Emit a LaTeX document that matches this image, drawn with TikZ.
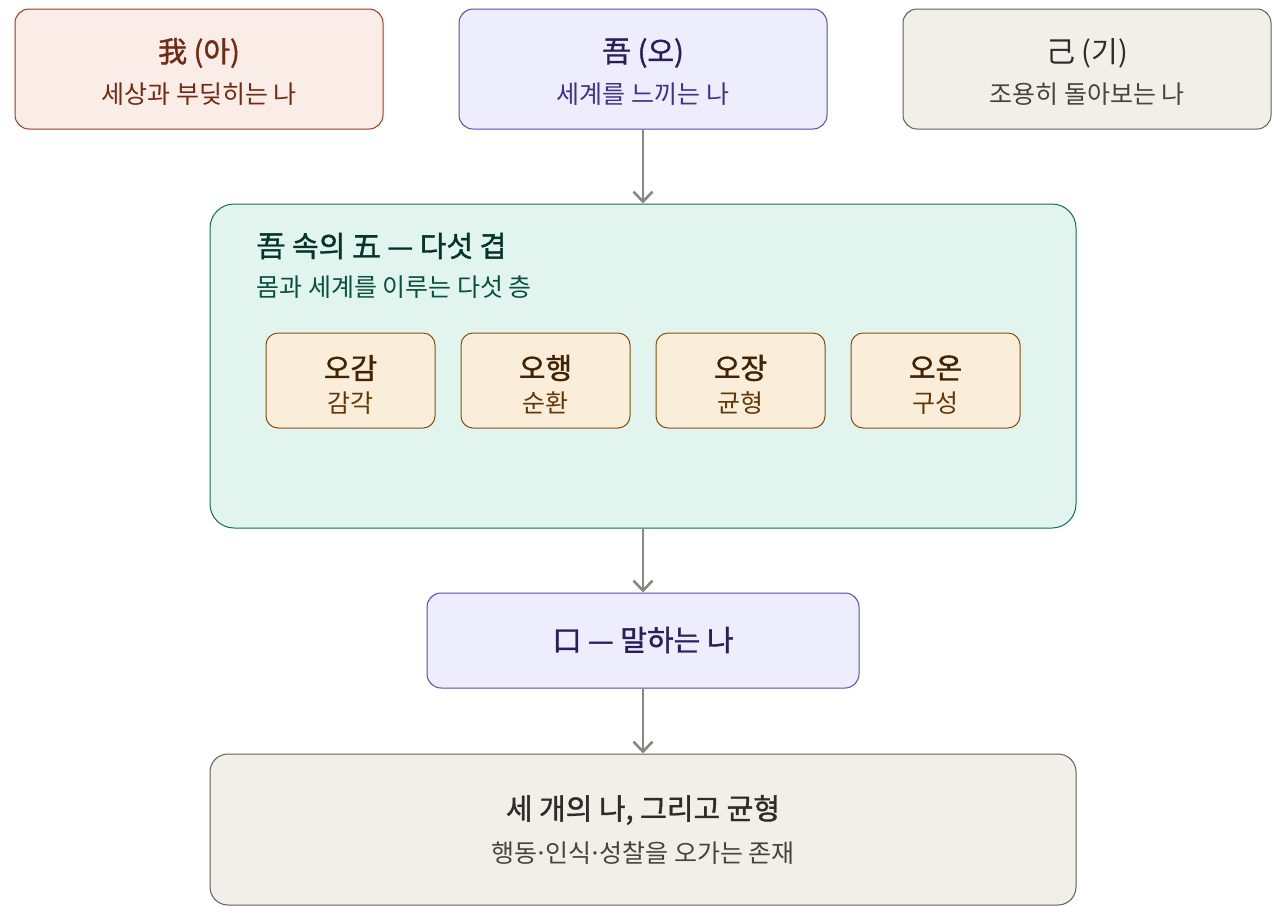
\documentclass[tikz,border=0pt]{standalone}
\usepackage{fontspec}
\setmainfont{Noto Sans CJK KR}
\newfontfamily\medfont[FakeBold=1.3]{Noto Sans CJK KR}
\usetikzlibrary{arrows.meta}

\definecolor{ahfill}{HTML}{FAECE7}
\definecolor{ahline}{HTML}{993C1D}
\definecolor{ahtext}{HTML}{712B13}
\definecolor{ohfill}{HTML}{EEEDFE}
\definecolor{ohline}{HTML}{534AB7}
\definecolor{ohtext}{HTML}{26215C}
\definecolor{ohsub}{HTML}{3C3489}
\definecolor{gifill}{HTML}{F1EFE8}
\definecolor{giline}{HTML}{5F5E5A}
\definecolor{gitext}{HTML}{2C2C2A}
\definecolor{gisub}{HTML}{444441}
\definecolor{fivefill}{HTML}{E1F5EE}
\definecolor{fiveline}{HTML}{0F6E56}
\definecolor{fivetext}{HTML}{04342C}
\definecolor{fivesub}{HTML}{085041}
\definecolor{sensefill}{HTML}{FAEEDA}
\definecolor{senseline}{HTML}{854F0B}
\definecolor{sensetext}{HTML}{412402}
\definecolor{sensesub}{HTML}{633806}
\definecolor{arrowgray}{HTML}{888780}

\newcommand{\mdot}{\kern-0.12em·\kern-0.12em}

\begin{document}
\begin{tikzpicture}[x=1pt, y=-1pt,
    box/.style={draw, line width=1pt, rounded corners=14pt, inner sep=0pt},
    title/.style={font=\fontsize{29}{33}\medfont},
    sub/.style={font=\fontsize{25}{29}\selectfont},
    arr/.style={draw=arrowgray, line width=2.6pt, -{Straight Barb[length=10pt, width=19pt, line width=2.6pt]}}]
    \useasboundingbox (0,0) rectangle (1280,922);

    % top row
    \node[box, fill=ahfill, draw=ahline, minimum width=368pt, minimum height=120pt] (ah) at (199,69) {};
    \node[title, text=ahtext] (ahtitle) at (199,53) {我 (아)};
    \node[sub, text=ahtext] (ahsub) at (199,94) {세상과 부딪히는 나};

    \node[box, fill=ohfill, draw=ohline, minimum width=368pt, minimum height=120pt] (oh) at (643,69) {};
    \node[title, text=ohtext] (ohtitle) at (643,53) {吾 (오)};
    \node[sub, text=ohsub] (ohsub) at (643,94) {세계를 느끼는 나};

    \node[box, fill=gifill, draw=giline, minimum width=368pt, minimum height=120pt] (gi) at (1087,69) {};
    \node[title, font=\fontsize{29}{33}\selectfont, text=gitext] (gititle) at (1087,53) {己 (기)};
    \node[sub, text=gisub] (gisub) at (1087,94) {조용히 돌아보는 나};

    % five layers
    \node[box, rounded corners=24pt, fill=fivefill, draw=fiveline, minimum width=866pt, minimum height=324pt] (five) at (643,366) {};
    \node[title, text=fivetext, anchor=west] (fivetitle) at (253,246) {吾 속의 五 — 다섯 겹};
    \node[sub, text=fivesub, anchor=west] (fivesub) at (253,287) {몸과 세계를 이루는 다섯 층};

    \node[box, rounded corners=12pt, fill=sensefill, draw=senseline, minimum width=169pt, minimum height=95pt] (ogam) at (350.5,380.5) {};
    \node[title, text=sensetext] (ogamtitle) at (350.5,368) {오감};
    \node[sub, text=sensesub] (ogamsub) at (350.5,403) {감각};

    \node[box, rounded corners=12pt, fill=sensefill, draw=senseline, minimum width=169pt, minimum height=95pt] (ohaeng) at (545.5,380.5) {};
    \node[title, text=sensetext] (ohaengtitle) at (545.5,368) {오행};
    \node[sub, text=sensesub] (ohaengsub) at (545.5,403) {순환};

    \node[box, rounded corners=12pt, fill=sensefill, draw=senseline, minimum width=169pt, minimum height=95pt] (ojang) at (740.5,380.5) {};
    \node[title, text=sensetext] (ojangtitle) at (740.5,368) {오장};
    \node[sub, text=sensesub] (ojangsub) at (740.5,403) {균형};

    \node[box, rounded corners=12pt, fill=sensefill, draw=senseline, minimum width=169pt, minimum height=95pt] (oon) at (935.5,380.5) {};
    \node[title, text=sensetext] (oontitle) at (935.5,368) {오온};
    \node[sub, text=sensesub] (oonsub) at (935.5,403) {구성};

    % speaking self
    \node[box, fill=ohfill, draw=ohline, minimum width=432pt, minimum height=95pt] (gu) at (643,640.5) {};
    \node[title, text=ohtext] (gutitle) at (643,640) {口 — 말하는 나};

    % balance
    \node[box, rounded corners=18pt, fill=gifill, draw=giline, minimum width=866pt, minimum height=151pt] (balance) at (643,829.5) {};
    \node[title, text=gitext] (balancetitle) at (643,810) {세 개의 나, 그리고 균형};
    \node[sub, text=gisub] (balancesub) at (643,853) {행동\mdot 인식\mdot 성찰을 오가는 존재};

    \draw[arr] (oh.south) -- (five.north);
    \draw[arr] (five.south) -- (gu.north);
    \draw[arr] (gu.south) -- (balance.north);
\end{tikzpicture}
\end{document}
